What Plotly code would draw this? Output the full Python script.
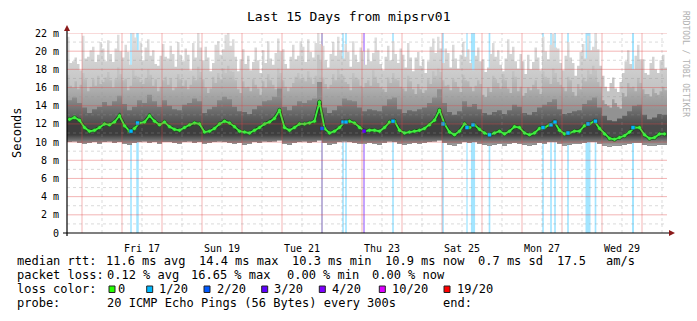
import plotly.graph_objects as go
from datetime import datetime, timedelta

# ---------------------------------------------------------------------------
# Data: SmokePing 15-day view of mipsrv01. Round-trip times in milliseconds.
# Core statistics are stored every 3 hours, the ragged upper envelope of the
# smoke every 1.5 hours.
# ---------------------------------------------------------------------------
window_start = datetime(2017, 11, 15, 15, 0)
window_days = 15
step_hours = 3
fine_step_hours = 1.5

rtt_median = [
    12.5, 12.7, 12.4, 11.6, 11.2, 11.3, 11.6, 12.0, 11.9, 12.2,
    12.9, 11.8, 11.2, 11.5, 12.1, 12.2, 12.9, 12.3, 11.9, 12.2,
    11.7, 11.4, 11.3, 11.6, 11.9, 12.1, 12.0, 11.1, 11.2, 11.5,
    12.0, 12.3, 12.1, 11.7, 11.2, 11.1, 11.0, 11.3, 11.6, 12.0,
    12.2, 12.6, 13.5, 11.6, 11.3, 11.6, 12.0, 12.0, 12.1, 12.3,
    14.4, 11.5, 11.0, 11.2, 11.6, 12.2, 12.3, 12.1, 11.6, 11.2,
    11.3, 11.3, 11.2, 11.6, 12.2, 12.3, 11.3, 11.0, 11.1, 11.2,
    11.3, 11.5, 11.9, 12.4, 13.5, 12.0, 11.1, 10.8, 11.2, 12.0,
    11.6, 11.9, 11.4, 11.0, 10.8, 11.0, 11.2, 10.9, 11.2, 11.7,
    11.6, 11.0, 10.8, 11.0, 11.5, 11.6, 11.9, 12.2, 11.3, 10.9,
    11.0, 11.2, 11.2, 11.8, 12.0, 12.3, 11.5, 10.9, 10.4, 10.3,
    10.5, 10.7, 11.1, 11.6, 11.6, 10.8, 10.4, 10.5, 10.9, 10.9,
]

rtt_min = [
    10.0, 10.1, 9.9, 9.8, 9.9, 10.0, 9.8, 10.0, 10.1, 9.9,
    10.0, 9.8, 9.7, 9.9, 10.0, 10.1, 9.9, 10.0, 9.8, 10.0,
    10.0, 9.9, 9.8, 10.0, 10.1, 9.9, 10.0, 9.8, 9.9, 10.0,
    10.1, 10.0, 9.9, 9.8, 9.9, 9.7, 9.8, 10.0, 9.9, 10.1,
    10.0, 10.1, 10.2, 9.8, 9.7, 9.9, 10.0, 10.1, 9.9, 10.0,
    10.2, 9.9, 9.7, 9.8, 10.0, 10.1, 10.0, 9.9, 9.8, 9.8,
    9.9, 9.8, 9.7, 9.9, 10.1, 10.0, 9.8, 9.7, 9.8, 9.9,
    9.8, 9.9, 10.0, 10.1, 10.2, 9.9, 9.7, 9.6, 9.8, 10.0,
    9.9, 10.0, 9.8, 9.7, 9.6, 9.7, 9.8, 9.6, 9.8, 9.9,
    9.8, 9.7, 9.6, 9.7, 9.9, 9.8, 10.0, 10.0, 9.8, 9.6,
    9.7, 9.8, 9.8, 9.9, 10.0, 10.0, 9.8, 9.6, 9.5, 9.6,
    9.6, 9.7, 9.8, 9.9, 9.9, 9.7, 9.6, 9.6, 9.7, 9.7,
]

rtt_p75 = [
    14.6, 14.9, 14.3, 13.8, 13.2, 13.6, 13.9, 14.4, 14.0, 14.5,
    15.1, 14.2, 13.5, 13.9, 14.6, 14.3, 15.2, 14.5, 13.9, 14.6,
    14.0, 13.6, 13.5, 14.1, 14.3, 14.8, 14.5, 13.2, 13.6, 13.9,
    14.6, 15.0, 14.7, 13.9, 13.4, 13.3, 13.1, 13.6, 14.0, 14.5,
    14.6, 15.0, 15.9, 13.9, 13.5, 14.0, 14.5, 14.3, 14.6, 14.8,
    16.6, 13.8, 13.2, 13.5, 14.0, 14.8, 14.6, 14.5, 13.8, 13.4,
    13.6, 13.5, 13.4, 14.0, 14.7, 14.9, 13.6, 13.2, 13.5, 13.4,
    13.6, 13.8, 14.3, 14.9, 15.8, 14.3, 13.3, 13.0, 13.4, 14.5,
    13.9, 14.2, 13.6, 13.2, 13.0, 13.3, 13.5, 13.1, 13.5, 14.1,
    13.9, 13.2, 13.0, 13.3, 13.8, 14.1, 14.4, 14.7, 13.6, 13.1,
    13.2, 13.4, 13.5, 14.2, 14.6, 14.9, 13.8, 12.9, 12.4, 12.3,
    12.6, 12.9, 13.4, 14.0, 14.1, 13.0, 12.5, 12.7, 13.1, 13.0,
]

# 90th percentile and maximum, every 1.5 hours
rtt_p90 = [
    17.4, 16.2, 16.0, 16.7, 15.8, 16.3, 17.6, 16.9, 15.6, 16.1,
    16.9, 16.2, 17.3, 16.4, 16.6, 17.1, 17.7, 16.8, 16.0, 16.9,
    18.2, 17.5, 16.8, 17.0, 15.7, 16.2, 17.9, 17.3, 17.2, 16.6,
    16.4, 17.0, 18.0, 17.4, 16.2, 16.9, 15.6, 16.1, 16.8, 17.2,
    16.3, 17.0, 15.7, 16.0, 17.5, 16.9, 16.2, 16.8, 15.8, 16.3,
    17.3, 16.8, 18.3, 17.7, 16.9, 16.0, 15.4, 15.9, 17.2, 16.5,
    17.6, 16.9, 18.1, 17.6, 18.4, 17.8, 17.7, 16.8, 15.8, 15.4,
    16.7, 16.0, 16.1, 15.6, 16.9, 16.3, 15.9, 15.2, 16.7, 16.0,
    17.5, 16.8, 16.3, 15.8, 18.1, 17.6, 16.8, 16.1, 15.6, 16.0,
    16.5, 17.2, 17.6, 17.0, 17.1, 16.7, 17.8, 17.1, 16.4, 17.3,
    19.6, 18.9, 17.1, 16.4, 15.9, 16.3, 17.5, 16.8, 18.0, 17.5,
    17.3, 16.6, 16.4, 15.7, 17.6, 17.1, 16.9, 16.2, 16.0, 16.5,
    16.8, 16.2, 17.9, 17.2, 16.5, 16.0, 15.8, 15.5, 17.1, 16.5,
    17.6, 17.0, 16.8, 16.1, 15.9, 15.6, 17.3, 16.7, 15.8, 15.3,
    16.4, 15.8, 15.4, 15.7, 16.9, 16.4, 17.8, 17.3, 18.1, 17.7,
    16.8, 16.2, 16.3, 15.7, 16.9, 16.6, 16.1, 15.5, 17.4, 16.8,
    16.7, 16.1, 15.6, 16.2, 16.8, 16.4, 15.2, 15.0, 16.0, 15.5,
    17.3, 16.9, 16.5, 15.9, 17.5, 16.8, 15.9, 15.4, 17.8, 17.2,
    15.6, 16.1, 15.1, 15.4, 16.0, 15.7, 16.3, 16.8, 15.8, 15.3,
    17.8, 17.2, 16.9, 16.4, 18.1, 17.6, 16.6, 16.3, 16.0, 15.6,
    17.2, 16.8, 15.5, 15.1, 16.4, 15.8, 17.1, 16.7, 17.9, 17.5,
    18.4, 17.9, 16.6, 16.1, 14.6, 14.2, 14.0, 13.8, 14.7, 14.3,
    13.9, 13.7, 15.4, 15.0, 16.5, 16.0, 16.1, 15.6, 17.0, 16.5,
    15.8, 15.3, 15.3, 15.0, 15.9, 15.4, 15.2, 15.6, 16.1, 15.7,
]

rtt_max = [
    21.6, 18.7, 18.9, 19.3, 18.6, 17.9, 21.7, 19.2, 19.4, 20.1,
    20.5, 18.8, 19.6, 21.0, 20.3, 18.9, 21.2, 19.7, 18.8, 20.3,
    21.8, 20.0, 19.3, 20.7, 19.9, 18.5, 22.0, 21.5, 20.1, 20.9,
    19.0, 20.4, 21.3, 19.5, 20.1, 18.6, 18.4, 19.5, 20.8, 19.4,
    19.2, 20.6, 19.7, 18.3, 21.0, 19.6, 18.9, 20.3, 19.6, 17.9,
    20.9, 19.3, 22.0, 20.4, 19.0, 20.5, 19.3, 17.8, 18.7, 20.7,
    21.1, 19.6, 20.2, 21.8, 22.0, 20.6, 21.3, 19.4, 17.8, 19.1,
    20.2, 18.6, 19.5, 17.9, 18.8, 20.4, 19.0, 17.6, 20.1, 18.7,
    21.1, 19.2, 18.5, 19.8, 21.4, 20.0, 20.2, 18.6, 18.1, 19.4,
    20.7, 19.1, 19.5, 21.1, 20.5, 18.8, 21.3, 19.9, 19.3, 20.9,
    22.0, 20.8, 20.6, 19.0, 18.2, 19.7, 21.0, 19.5, 21.6, 20.1,
    19.2, 20.8, 19.9, 18.3, 21.1, 19.6, 18.8, 20.4, 20.0, 18.5,
    20.3, 18.9, 19.8, 21.5, 20.1, 18.6, 17.9, 19.4, 20.6, 19.0,
    21.1, 19.7, 18.7, 20.3, 19.6, 18.2, 20.9, 19.3, 17.8, 19.3,
    19.9, 18.4, 19.1, 17.6, 18.9, 20.5, 21.4, 19.8, 21.6, 20.3,
    18.7, 20.3, 19.8, 18.2, 20.7, 19.2, 18.1, 19.6, 21.0, 19.4,
    20.2, 18.7, 17.9, 19.5, 20.4, 18.9, 19.1, 17.7, 18.2, 19.7,
    20.9, 19.4, 20.1, 18.5, 17.8, 19.2, 21.3, 19.7, 20.5, 18.9,
    18.1, 19.7, 18.9, 17.5, 19.6, 18.0, 18.8, 20.4, 19.3, 17.9,
    21.6, 20.0, 19.1, 20.7, 21.9, 20.4, 20.3, 18.7, 17.9, 19.5,
    21.0, 19.3, 18.7, 17.3, 18.4, 19.9, 20.8, 19.2, 21.7, 20.1,
    20.5, 22.0, 20.2, 18.4, 17.3, 16.1, 15.6, 16.5, 17.1, 15.9,
    15.5, 16.6, 17.6, 18.9, 20.1, 18.6, 18.0, 19.5, 20.7, 19.1,
    19.1, 17.6, 17.4, 18.7, 19.4, 18.0, 17.6, 19.0, 19.6, 18.2,
]

# Packet-loss events: hours after window start, duration (h), pings lost of 20
loss_hour = [38.4, 42.3, 153.0, 165.6, 167.4, 178.2, 195.6, 225.6, 240.0,
             243.6, 253.5, 285.6, 290.4, 292.8, 300.6, 312.6, 317.1, 339.6]
loss_span = [1.0, 1.5, 1.0, 1.0, 1.0, 1.2, 1.0, 1.0, 0.8,
             2.5, 1.0, 1.0, 1.0, 1.0, 1.0, 3.0, 1.0, 1.2]
loss_pings = [1, 1, 2, 1, 1, 3, 1, 1, 1,
              1, 1, 1, 1, 1, 1, 1, 1, 1]

# Loss colour scale used by SmokePing for 20 pings
loss_labels = ["0", "1/20", "2/20", "3/20", "4/20", "10/20", "19/20"]
loss_thresholds = [0, 1, 2, 3, 4, 10, 19]
loss_colors = ["#26ff00", "#00b8ff", "#0059ff", "#5e00ff", "#7e00ff", "#dd00ff", "#ff0000"]

title_text = "Last 15 Days from mipsrv01"
day_labels = ["Fri 17", "Sun 19", "Tue 21", "Thu 23", "Sat 25", "Mon 27", "Wed 29"]
y_ticks = list(range(0, 23, 2))

# ---------------------------------------------------------------------------
# Layout geometry (pixels)
# ---------------------------------------------------------------------------
W, H = 697, 321
PL, PT, PW, PH = 67, 33, 600, 200
MONO = "DejaVu Sans Mono"


def fx(px):
    return (px - PL) / PW


def fy(py):
    return (PT + PH - py) / PH


def rgba(hex_color, a):
    h = hex_color.lstrip("#")
    r, g, b = int(h[0:2], 16), int(h[2:4], 16), int(h[4:6], 16)
    return f"rgba({r},{g},{b},{a})"


def loss_color(n):
    c = loss_colors[0]
    for t, col in zip(loss_thresholds, loss_colors):
        if n >= t:
            c = col
    return c


def steps(values, hours):
    """Column edges for a stepped ('hv') series."""
    xs = [window_start + timedelta(hours=hours * k) for k in range(len(values) + 1)]
    return xs, list(values) + [values[-1]]


window_end = window_start + timedelta(days=window_days)
col_times = [window_start + timedelta(hours=step_hours * (i + 0.5)) for i in range(len(rtt_median))]
ratio = int(step_hours / fine_step_hours)
fine_base = [rtt_min[j // ratio] for j in range(len(rtt_max))]

fig = go.Figure()


def smoke_band(lower, upper, hours, grad_lo, grad_hi, c_lo, c_hi):
    xs, ys_lo = steps(lower, hours)
    _, ys_hi = steps(upper, hours)
    fig.add_trace(go.Scatter(x=xs, y=ys_lo, mode="lines", line=dict(width=0, shape="hv"),
                             hoverinfo="skip", showlegend=False))
    fig.add_trace(go.Scatter(
        x=xs, y=ys_hi, mode="lines", line=dict(width=0, shape="hv"), fill="tonexty",
        fillgradient=dict(type="vertical", start=grad_lo, stop=grad_hi,
                          colorscale=[[0, c_lo], [1, c_hi]]),
        hoverinfo="skip", showlegend=False,
    ))


# Smoke: nested bands from the fastest ping upwards, shaded darker towards the median
smoke_band(fine_base, rtt_max, fine_step_hours, 16.0, 21.5, "#c4c4c4", "#dedede")
smoke_band(fine_base, rtt_p90, fine_step_hours, 13.5, 17.5, "#929292", "#c2c2c2")
smoke_band(rtt_min, rtt_p75, step_hours, 11.8, 15.0, "#4a4a4a", "#8e8e8e")
smoke_band(rtt_min, rtt_median, step_hours, 9.6, 10.8, "#a8a8a8", "#3e3e3e")

# Median round-trip time
fig.add_trace(go.Scatter(
    x=col_times, y=rtt_median, mode="lines+markers",
    line=dict(color="rgba(20,70,20,0.85)", width=3.4),
    marker=dict(size=4, color="#3cf03c", line=dict(color="#1f5f1f", width=0.8)),
    hoverinfo="skip", showlegend=False,
))
fig.add_trace(go.Scatter(
    x=col_times, y=rtt_median, mode="lines",
    line=dict(color="#3cf03c", width=1.8),
    hoverinfo="skip", showlegend=False,
))

# Median points recoloured where pings were lost
lx, ly, lc = [], [], []
for h, n in zip(loss_hour, loss_pings):
    idx = min(int(h // step_hours), len(rtt_median) - 1)
    lx.append(window_start + timedelta(hours=h))
    ly.append(rtt_median[idx])
    lc.append(loss_color(n))
fig.add_trace(go.Scatter(
    x=lx, y=ly, mode="markers",
    marker=dict(size=4, color=lc, symbol="square", line=dict(color="#333333", width=0.5)),
    hoverinfo="skip", showlegend=False,
))

shapes = []

# Loss bars behind the smoke
for h, span, n in zip(loss_hour, loss_span, loss_pings):
    t0 = window_start + timedelta(hours=h - span / 2)
    t1 = window_start + timedelta(hours=h + span / 2)
    shapes.append(dict(type="rect", xref="x", yref="y", x0=t0, x1=t1, y0=0, y1=22,
                       fillcolor=rgba(loss_color(n), 0.36), line=dict(width=0), layer="below"))

# Grid drawn over the smoke
MAJOR = "rgba(225,70,70,0.40)"
MINOR = "rgba(150,150,150,0.35)"
for d in range(window_days + 1):
    midnight = datetime(2017, 11, 16) + timedelta(days=d)
    noon = midnight + timedelta(hours=12)
    for t, col, dash in ((midnight, MAJOR, "solid"), (noon, MINOR, "dot")):
        if window_start < t < window_end:
            shapes.append(dict(type="line", xref="x", yref="y", x0=t, x1=t, y0=0, y1=22,
                               line=dict(color=col, width=1, dash=dash), layer="above"))
for v in range(1, 23):
    major = v % 2 == 0
    shapes.append(dict(type="line", xref="paper", yref="y", x0=0, x1=1, y0=v, y1=v,
                       line=dict(color=MAJOR if major else MINOR, width=1,
                                 dash="solid" if major else "dot"), layer="above"))

# Axes with arrow heads
shapes.append(dict(type="line", xref="paper", yref="paper", x0=fx(67), x1=fx(67),
                   y0=fy(236), y1=fy(29), line=dict(color="black", width=1.2), layer="above"))
shapes.append(dict(type="line", xref="paper", yref="paper", x0=fx(63), x1=fx(670),
                   y0=fy(233), y1=fy(233), line=dict(color="black", width=1.2), layer="above"))
shapes.append(dict(type="path", xref="paper", yref="paper",
                   path=f"M {fx(64)} {fy(31)} L {fx(70)} {fy(31)} L {fx(67)} {fy(25)} Z",
                   fillcolor="#8b1a1a", line=dict(width=0), layer="above"))
shapes.append(dict(type="path", xref="paper", yref="paper",
                   path=f"M {fx(669)} {fy(230)} L {fx(669)} {fy(236)} L {fx(675)} {fy(233)} Z",
                   fillcolor="#8b1a1a", line=dict(width=0), layer="above"))

annotations = []


def label(px, py, text, size=12, anchor="left", color="black", angle=0):
    annotations.append(dict(
        xref="paper", yref="paper", x=fx(px), y=fy(py), text=text, showarrow=False,
        xanchor=anchor, yanchor="middle", textangle=angle, borderpad=0, borderwidth=0,
        font=dict(family=MONO, size=size, color=color),
    ))


label(348.5, 16, title_text, size=13, anchor="center")
label(17, 133, "Seconds", size=12, anchor="center", angle=-90)
label(686, 64, "RRDTOOL / TOBI OETIKER", size=8, anchor="center", color="#b0b0b0", angle=90)

# Statistics legend
rows = [
    (261, [(16.5, "median rtt:"), (106, "11.6 ms avg"), (199, "14.4 ms max"),
           (292, "10.3 ms min"), (385, "10.9 ms now"), (478, "0.7 ms sd"),
           (557, "17.5"), (606, "am/s")]),
    (275, [(16.5, "packet loss:"), (107, "0.12 % avg"), (191, "16.65 % max"),
           (286.5, "0.00 % min"), (372, "0.00 % now")]),
    (289, [(16.5, "loss color:")]),
    (303, [(16.5, "probe:"), (107, "20 ICMP Echo Pings (56 Bytes) every 300s"),
           (443.5, "end:")]),
]
for py, items in rows:
    for px, text in items:
        label(px, py, text)

box_left = [109, 146.7, 204, 261.7, 319.3, 379.3, 444]
text_left = [117.5, 158.5, 216.5, 273.5, 331.5, 391.5, 456.5]
for bx, tx, name, col in zip(box_left, text_left, loss_labels, loss_colors):
    shapes.append(dict(type="rect", xref="paper", yref="paper",
                       x0=fx(bx), x1=fx(bx + 6), y0=fy(292.5), y1=fy(286),
                       fillcolor=col, line=dict(color="#222222", width=1), layer="above"))
    label(tx, 289, name)

fig.update_layout(
    width=W, height=H,
    margin=dict(l=PL, r=W - PL - PW, t=PT, b=H - PT - PH, pad=0),
    paper_bgcolor="white", plot_bgcolor="white",
    showlegend=False,
    shapes=shapes, annotations=annotations,
    xaxis=dict(
        type="date", range=[window_start, window_end],
        tickvals=[datetime(2017, 11, 17, 12) + timedelta(days=2 * k) for k in range(len(day_labels))],
        ticktext=day_labels, showgrid=False, zeroline=False, showline=False,
        ticks="outside", ticklen=6, tickcolor="rgba(0,0,0,0)",
        tickfont=dict(family=MONO, size=10, color="black"), fixedrange=True,
    ),
    yaxis=dict(
        range=[0, 22], tickvals=y_ticks,
        ticktext=["0" if v == 0 else f"{v} m" for v in y_ticks],
        showgrid=False, zeroline=False, showline=False,
        ticks="outside", ticklen=5, tickcolor="rgba(0,0,0,0)",
        tickfont=dict(family=MONO, size=10, color="black"), fixedrange=True,
    ),
)

fig.write_html("out.html")
